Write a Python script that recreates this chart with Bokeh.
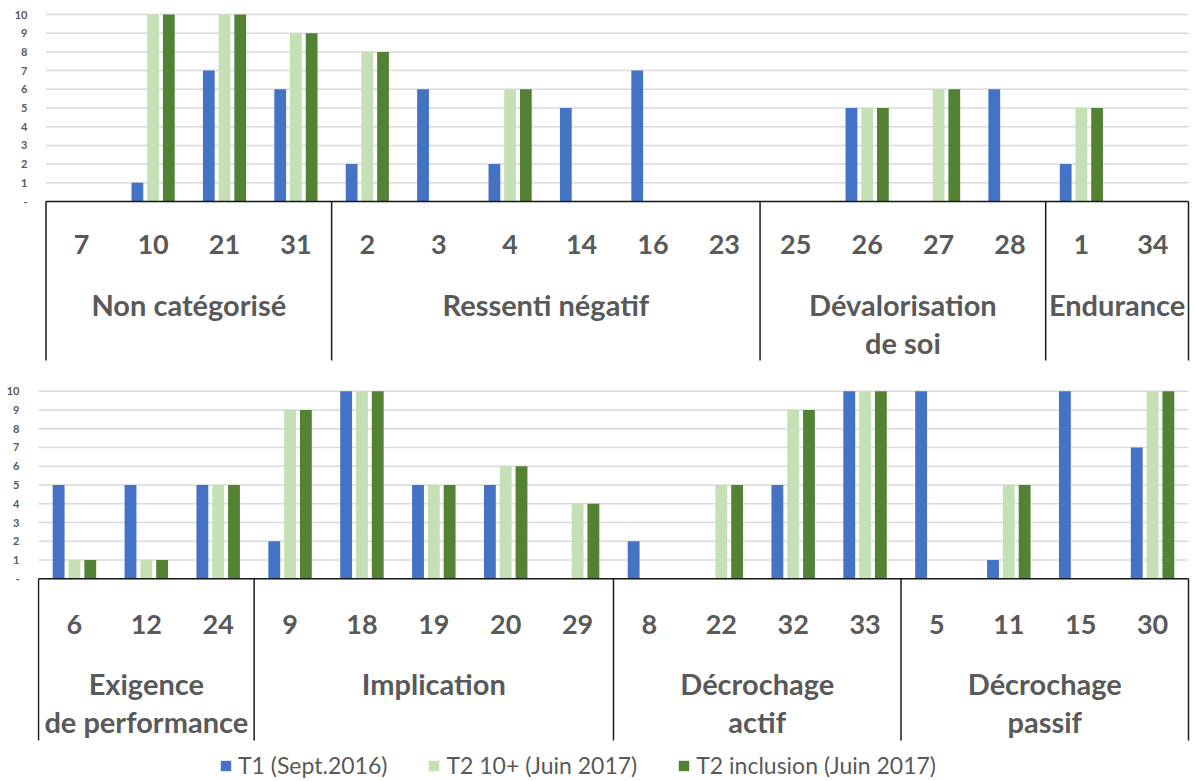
import numpy as np
from bokeh.plotting import figure
from bokeh.models import FixedTicker, Legend, LegendItem, Range1d
from bokeh.layouts import column
from bokeh.embed import file_html
from bokeh.resources import INLINE
from bokeh.core.properties import value

# ---------------- data ----------------
series_names = ["T1 (Sept.2016)", "T2 10+ (Juin 2017)", "T2 inclusion (Juin 2017)"]
series_colors = ["#4472C4", "#C5E0B4", "#548235"]
y_ticks = list(range(0, 11))

top_items = ["7", "10", "21", "31", "2", "3", "4", "14", "16", "23", "25", "26", "27", "28", "1", "34"]
top_group_line1 = ["Non catégorisé", "Ressenti négatif", "Dévalorisation", "Endurance"]
top_group_line2 = ["", "", "de soi", ""]
top_group_sizes = [4, 6, 4, 2]
top_t1 = [0, 1, 7, 6, 2, 6, 2, 5, 7, 0, 0, 5, 0, 6, 2, 0]
top_t2_10 = [0, 10, 10, 9, 8, 0, 6, 0, 0, 0, 0, 5, 6, 0, 5, 0]
top_t2_incl = [0, 10, 10, 9, 8, 0, 6, 0, 0, 0, 0, 5, 6, 0, 5, 0]

bot_items = ["6", "12", "24", "9", "18", "19", "20", "29", "8", "22", "32", "33", "5", "11", "15", "30"]
bot_group_line1 = ["Exigence", "Implication", "Décrochage", "Décrochage"]
bot_group_line2 = ["de performance", "", "actif", "passif"]
bot_group_sizes = [3, 5, 4, 4]
bot_t1 = [5, 5, 5, 2, 10, 5, 5, 0, 2, 0, 5, 10, 10, 1, 10, 7]
bot_t2_10 = [1, 1, 5, 9, 10, 5, 6, 4, 0, 5, 9, 10, 0, 5, 0, 10]
bot_t2_incl = [1, 1, 5, 9, 10, 5, 6, 4, 0, 5, 9, 10, 0, 5, 0, 10]

TEXT_COLOR = "#595959"
FONT = "Lato"
FIG_W = 1190
FRAME_L = 37


def make_panel(items, line1, line2, sizes, series, height, px_zero, px_end,
               y_start, y_end, cat_y, g1_y, g2_y, box_bottom, standoff):
    n = len(items)
    ppx = (px_end - px_zero) / n
    xs = -(px_zero - FRAME_L) / ppx
    xe = xs + (FIG_W - FRAME_L) / ppx
    p = figure(width=FIG_W, height=height, output_backend="svg", toolbar_location=None,
               x_range=Range1d(xs, xe), y_range=Range1d(y_start, y_end),
               x_axis_location=None, min_border_left=FRAME_L, min_border_right=0,
               min_border_top=0, min_border_bottom=0)
    p.outline_line_color = None
    p.xgrid.visible = False
    p.ygrid.visible = False
    p.yaxis.ticker = FixedTicker(ticks=y_ticks)
    p.yaxis.major_label_overrides = {0: "-"}
    p.yaxis.axis_line_color = None
    p.yaxis.major_tick_line_color = None
    p.yaxis.minor_tick_line_color = None
    p.yaxis.major_tick_out = 0
    p.yaxis.major_tick_in = 0
    p.yaxis.minor_tick_out = 0
    p.yaxis.major_label_standoff = standoff
    p.yaxis.major_label_text_align = "right"
    p.yaxis.major_label_text_font = FONT
    p.yaxis.major_label_text_font_size = "11px"
    p.yaxis.major_label_text_font_style = "bold"
    p.yaxis.major_label_text_color = TEXT_COLOR

    # horizontal gridlines over the plotted span
    p.segment(x0=[0] * len(y_ticks), y0=y_ticks, x1=[n] * len(y_ticks), y1=y_ticks,
              line_color="#D9D9D9", line_width=1.5)

    centers = np.arange(n) + 0.5
    offsets = [-0.22, 0.0, 0.22]
    renderers = []
    for vals, col, off in zip(series, series_colors, offsets):
        r = p.vbar(x=centers + off, top=vals, bottom=0, width=0.165,
                   fill_color=col, line_color=None)
        renderers.append(r)

    # category axis box
    bounds = np.concatenate([[0], np.cumsum(sizes)])
    p.segment(x0=bounds, y0=[0] * len(bounds), x1=bounds, y1=[box_bottom] * len(bounds),
              line_color="#1a1a1a", line_width=1.5)
    p.segment(x0=[0], y0=[0], x1=[n], y1=[0], line_color="#1a1a1a", line_width=1.5)

    p.text(x=centers, y=[cat_y] * n, text=items, text_align="center",
           text_baseline="middle", text_font=value(FONT), text_font_style="bold",
           text_font_size="27px", text_color=TEXT_COLOR)
    gc = (bounds[:-1] + bounds[1:]) / 2
    for ly, lines in ((g1_y, line1), (g2_y, line2)):
        p.text(x=gc, y=[ly] * len(gc), text=lines, text_align="center",
               text_baseline="middle", text_font=value(FONT), text_font_style="bold",
               text_font_size="29px", text_color=TEXT_COLOR)
    return p, renderers


# top panel: figure page 0..380, zero at y 201, 18.7 px/unit, x from 45 to 1188
ppu1 = 18.7
z1 = 201
H1 = 380
top, _ = make_panel(top_items, top_group_line1, top_group_line2, top_group_sizes,
                    [top_t1, top_t2_10, top_t2_incl], H1, 45.5, 1188,
                    (z1 - H1) / ppu1, z1 / ppu1,
                    -(244 - z1) / ppu1, -(304 - z1) / ppu1, -(342 - z1) / ppu1,
                    -(360 - z1) / ppu1, 10)

# bottom panel: figure page 380..780, zero at y 578.3, 18.76 px/unit, x from 37 to 1188
ppu2 = 18.76
z2 = 578.3 - H1
H2 = 400
bot, rends = make_panel(bot_items, bot_group_line1, bot_group_line2, bot_group_sizes,
                        [bot_t1, bot_t2_10, bot_t2_incl], H2, 38, 1188,
                        (z2 - H2) / ppu2, z2 / ppu2,
                        -(624 - 578.3) / ppu2, -(683 - 578.3) / ppu2, -(721 - 578.3) / ppu2,
                        -(740 - 578.3) / ppu2, 18)

legend = Legend(items=[LegendItem(label=nm, renderers=[r]) for nm, r in zip(series_names, rends)],
                orientation="horizontal", location=(182, 1),
                background_fill_alpha=0, border_line_color=None, padding=0, margin=0,
                spacing=40, label_standoff=6, glyph_width=13, glyph_height=13,
                label_text_font=FONT, label_text_font_size="23px",
                label_text_color=TEXT_COLOR, label_height=26)
bot.add_layout(legend)

layout = column(top, bot, spacing=0)
open("out.html", "w").write(file_html(layout, INLINE))
